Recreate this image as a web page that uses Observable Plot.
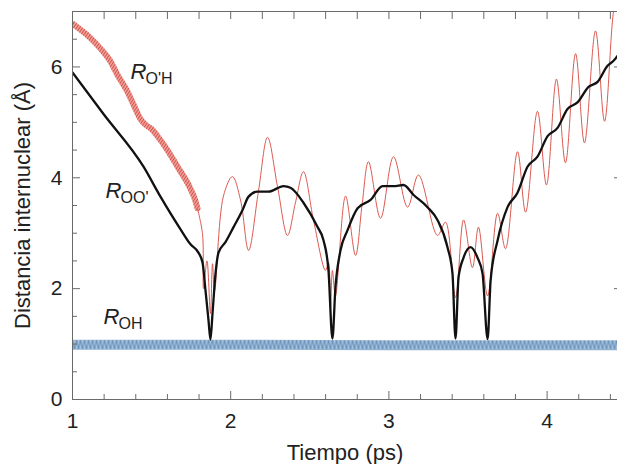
<!DOCTYPE html>
<html><head><meta charset="utf-8">
<script src="https://cdn.jsdelivr.net/npm/d3@7"></script>
<script src="https://cdn.jsdelivr.net/npm/@observablehq/plot@0.6"></script>
<style>body{margin:0;background:#fff;} #chart svg{display:block;}</style>
</head><body><div id="chart"></div>
<script>
// R_OO' (black)
const tOO = [1.0,1.196,1.449,1.556,1.683,1.746,1.796,1.822,1.841,1.860,1.872,1.885,1.904,1.923,1.967,2.018,2.075,2.113,2.169,2.239,2.334,2.378,2.460,2.549,2.587,2.618,2.643,2.662,2.694,2.738,2.802,2.884,2.960,3.029,3.092,3.156,3.244,3.307,3.370,3.402,3.421,3.440,3.472,3.516,3.560,3.592,3.624,3.643,3.687,3.750,3.813,3.876,3.939,4.003,4.066,4.129,4.192,4.262,4.319,4.382,4.420,4.445];
const rOO = [5.9,5.15,4.2,3.66,3.07,2.8,2.65,2.47,1.96,1.42,1.08,1.55,2.27,2.65,2.84,3.11,3.42,3.66,3.75,3.75,3.85,3.82,3.55,3.11,2.87,2.33,1.1,2.02,2.69,3.05,3.45,3.6,3.85,3.85,3.87,3.69,3.47,3.24,2.75,2.27,1.1,2.2,2.56,2.75,2.56,2.27,1.09,2.15,2.87,3.47,3.73,4.2,4.38,4.75,4.9,5.24,5.36,5.64,5.73,6.02,6.11,6.2];
// R_O'H (red) – early fast-vibrating band
const tOHpBand = [1.0,1.114,1.177,1.240,1.284,1.348,1.386,1.430,1.465,1.500,1.540,1.600,1.664,1.746,1.775,1.790];
const rOHpBand = [6.78,6.52,6.33,6.1,5.86,5.55,5.32,5.06,4.95,4.88,4.74,4.5,4.2,3.8,3.6,3.45];
// R_O'H (red) – later thin line
const tOHp = [1.790,1.822,1.828,1.850,1.872,1.885,1.898,1.954,2.011,2.062,2.113,2.175,2.233,2.296,2.359,2.410,2.460,2.523,2.599,2.618,2.631,2.643,2.662,2.726,2.789,2.830,2.871,2.947,3.029,3.118,3.187,3.307,3.358,3.421,3.472,3.528,3.566,3.624,3.687,3.737,3.813,3.864,3.939,3.996,4.059,4.116,4.180,4.236,4.306,4.363,4.420,4.445];
const rOHp = [3.45,2.98,2.0,2.5,1.55,2.45,1.96,3.67,4.02,3.6,2.69,3.75,4.73,3.84,2.96,3.56,4.11,3.24,2.33,2.47,1.65,2.33,1.87,3.67,2.6,3.5,4.29,3.27,4.38,3.47,4.05,2.96,3.2,1.84,3.24,2.38,3.11,1.87,3.36,2.72,4.47,3.38,5.2,3.87,5.78,4.27,6.24,4.63,6.65,5.02,7.0,7.3];
// R_OH (blue)
const tOH = [1.0, 2.0, 3.0, 4.445];
const rOH = [0.99, 0.99, 0.98, 0.98];

// axes
const xMajor = [1, 2, 3, 4];
const xMinor = [1.2,1.4,1.6,1.8,2.2,2.4,2.6,2.8,3.2,3.4,3.6,3.8,4.2,4.4];
const yMajor = [0, 2, 4, 6];
const yMinor = [0.5,1,1.5,2.5,3,3.5,4.5,5,5.5,6.5];
const xLabel = "Tiempo (ps)";
const yLabel = "Distancia internuclear (Å)";

// series labels
const labR = ["R", "R", "R"];
const labSub = ["O'H", "OO'", "OH"];
const labT = [1.367, 1.209, 1.196];
const labV = [5.79, 3.63, 1.37];

const rows = (t, v) => t.map((x, i) => ({t: x, v: v[i]}));
const black = rows(tOO, rOO);
const redBand = rows(tOHpBand, rOHpBand);
const redThin = rows(tOHp, rOHp);
const blue = rows(tOH, rOH);
const labels = labR.map((r, i) => ({r, sub: labSub[i], t: labT[i], v: labV[i]}));

const W = 617, H = 464, mL = 72, mR = 0, mT = 11, mB = 65;
const fw = W - mL - mR, fh = H - mT - mB;
const axisColor = "#6a6a6a";

const chart = Plot.plot({
  width: W, height: H,
  marginLeft: mL, marginRight: mR, marginTop: mT, marginBottom: mB,
  style: {fontFamily: "'Liberation Sans', Arial, sans-serif", background: "#fff", color: "#222"},
  x: {domain: [1, 4.445]},
  y: {domain: [0, 7]},
  marks: [
    Plot.line(blue, {x: "t", y: "v", stroke: "url(#hatchBlue)", strokeWidth: 10, clip: true}),
    Plot.line(redBand, {x: "t", y: "v", stroke: "url(#hatchRed)", strokeWidth: 6, curve: "monotone-x", clip: true}),
    Plot.line(redThin, {x: "t", y: "v", stroke: "#dc5a52", strokeWidth: 1, curve: "catmull-rom", clip: true}),
    Plot.line(black, {x: "t", y: "v", stroke: "#111", strokeWidth: 2.3, curve: "monotone-x", clip: true}),
    // frame
    Plot.ruleX([1], {stroke: axisColor}),
    Plot.ruleY([0, 7], {stroke: axisColor}),
    // ticks (inward)
    Plot.ruleX(xMajor, {stroke: axisColor, insetTop: fh - 8}),
    Plot.ruleX(xMinor, {stroke: axisColor, insetTop: fh - 5}),
    Plot.ruleX(xMajor, {stroke: axisColor, insetBottom: fh - 8}),
    Plot.ruleX(xMinor, {stroke: axisColor, insetBottom: fh - 8}),
    Plot.ruleY(yMajor, {stroke: axisColor, insetRight: fw - 8}),
    Plot.ruleY(yMinor, {stroke: axisColor, insetRight: fw - 5}),
    Plot.ruleY(yMajor, {stroke: axisColor, insetLeft: fw - 3}),
    // tick labels
    Plot.axisX({ticks: xMajor, tickSize: 0, tickPadding: 14, fontSize: 21, tickFormat: d3.format("d"), label: null}),
    Plot.axisY({ticks: yMajor, tickSize: 0, tickPadding: 10, fontSize: 21, tickFormat: d3.format("d"), label: null}),
    // axis titles
    Plot.text([xLabel], {frameAnchor: "bottom", textAnchor: "middle", lineAnchor: "bottom", dy: 60, fontSize: 22, fill: "#222"}),
    Plot.text([yLabel], {frameAnchor: "left", textAnchor: "middle", rotate: -90, lineAnchor: "middle", dx: -50, fontSize: 22, fill: "#222"}),
    // series labels
    Plot.text(labels, {x: "t", y: "v", text: "r", textAnchor: "start", lineAnchor: "bottom", fontSize: 22, fontStyle: "italic", fill: "#222"}),
    Plot.text(labels, {x: "t", y: "v", text: "sub", textAnchor: "start", lineAnchor: "bottom", dx: 15, dy: 5, fontSize: 16, fill: "#222"})
  ]
});

// hatch patterns used as stroke textures
const NS = "http://www.w3.org/2000/svg";
function el(name, attrs, parent) {
  const e = document.createElementNS(NS, name);
  for (const k in attrs) e.setAttribute(k, attrs[k]);
  if (parent) parent.appendChild(e);
  return e;
}
const defs = el("defs", {});
const pr = el("pattern", {id: "hatchRed", patternUnits: "userSpaceOnUse", width: 2.5, height: 2.5, patternTransform: "rotate(35)"}, defs);
el("rect", {width: 2.5, height: 2.5, fill: "#eea19a"}, pr);
el("rect", {width: 0.9, height: 2.5, fill: "#d44d45"}, pr);
const pb = el("pattern", {id: "hatchBlue", patternUnits: "userSpaceOnUse", x: 0, y: 339, width: 4, height: 10}, defs);
el("rect", {width: 4, height: 10, fill: "#a9c3dc"}, pb);
el("path", {d: "M0,0L2,10L4,0", fill: "none", stroke: "#5a88b5", "stroke-width": 0.9}, pb);
chart.insertBefore(defs, chart.firstChild);

document.getElementById("chart").appendChild(chart);
</script>
</body></html>
